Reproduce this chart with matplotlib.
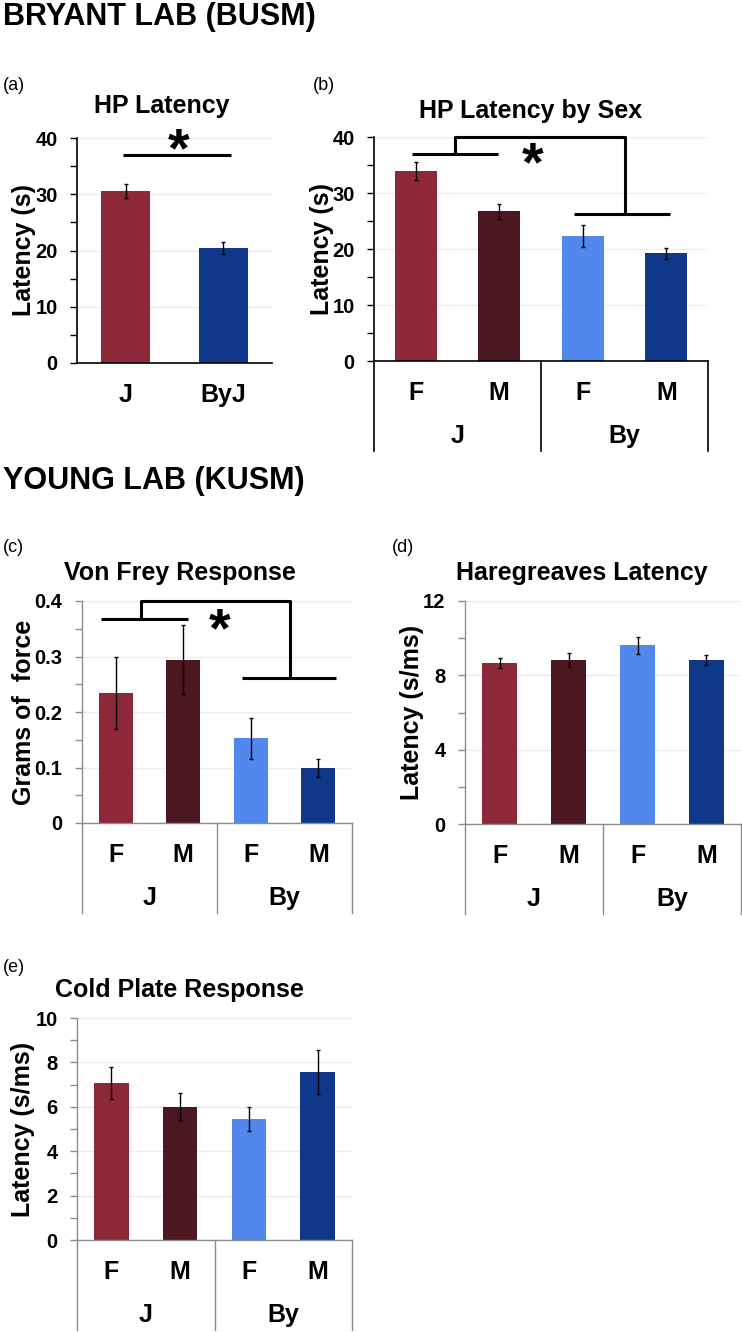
import matplotlib.pyplot as plt
import matplotlib.transforms as mtrans

plt.rcParams['font.family'] = ['Liberation Sans', 'DejaVu Sans']

# ---- data ----
strains_a = ["J", "ByJ"]
hp_mean = [30.6, 20.5]
hp_err = [1.2, 1.1]

sex_labels = ["F", "M", "F", "M"]
strain_labels = ["J", "By"]

hp_sex_mean = [33.9, 26.7, 22.3, 19.2]
hp_sex_err = [1.6, 1.4, 2.0, 1.0]

vf_mean = [0.234, 0.294, 0.153, 0.099]
vf_err = [0.065, 0.062, 0.037, 0.017]

hg_mean = [8.65, 8.81, 9.61, 8.81]
hg_err = [0.28, 0.38, 0.45, 0.27]

cp_mean = [7.07, 6.0, 5.45, 7.56]
cp_err = [0.74, 0.6, 0.52, 1.0]

hp_ticks = [0, 10, 20, 30, 40]
hp_minor = [5, 15, 25, 35]
vf_ticks = [0, 0.1, 0.2, 0.3, 0.4]
vf_ticklabels = ["0", "0.1", "0.2", "0.3", "0.4"]
vf_minor = [0.05, 0.15, 0.25, 0.35]
hg_ticks = [0, 4, 8, 12]
hg_minor = [2, 6, 10]
cp_ticks = [0, 2, 4, 6, 8, 10]
cp_minor = [1, 3, 5, 7, 9]

red, maroon, light_blue, navy = "#8c2837", "#4b1720", "#5288eb", "#10388a"
colors4 = [red, maroon, light_blue, navy]
GRAY = "#8c8c8c"

W, H = 742, 1332
fig = plt.figure(figsize=(W / 100, H / 100), dpi=100)


def make_axes(left, top, right, bottom):
    return fig.add_axes([left / W, 1 - bottom / H, (right - left) / W, (bottom - top) / H])


def down(px):
    # shift by px pixels downward
    return mtrans.ScaledTranslation(0, -px / 100, fig.dpi_scale_trans)


def style_axes(ax, ylim, major, minor, labels, line_color, lw):
    ax.set_ylim(0, ylim)
    ax.set_yticks(major)
    ax.set_yticklabels(labels, fontsize=14.5, fontweight='bold')
    ax.set_yticks(minor, minor=True)
    ax.tick_params(axis='y', which='both', direction='out', length=5, width=1,
                   color=line_color, labelcolor='black', pad=9)
    ax.set_xticks([])
    for s in ['top', 'right']:
        ax.spines[s].set_visible(False)
    for s in ['left', 'bottom']:
        ax.spines[s].set_color(line_color)
        ax.spines[s].set_linewidth(lw)
    ax.grid(axis='y', which='major', color='#ececec', lw=1)
    ax.set_axisbelow(True)


def draw_bars(ax, means, errs, colors):
    x = list(range(len(means)))
    ax.bar(x, means, width=0.5, color=colors, zorder=2)
    ax.errorbar(x, means, yerr=errs, fmt='none', ecolor='black', elinewidth=1,
                capsize=1.5, capthick=1, zorder=3)
    ax.set_xlim(-0.5, len(means) - 0.5)


def group_axis(ax, line_color):
    trans = mtrans.blended_transform_factory(ax.transData, ax.transAxes)
    h_px = ax.get_position().height * H
    for xv in [-0.5, 1.5, 3.5]:
        ax.plot([xv, xv], [0, -90 / h_px], transform=trans, color=line_color,
                lw=1.2 if line_color == 'black' else 1, clip_on=False)
    for i, lab in enumerate(sex_labels):
        ax.text(i, 0, lab, transform=trans + down(39), ha='center', va='baseline',
                fontsize=18, fontweight='bold')
    for i, lab in enumerate(strain_labels):
        ax.text(2 * i + 0.5, 0, lab, transform=trans + down(82), ha='center',
                va='baseline', fontsize=18, fontweight='bold')


def star(ax, x, y, fs=40):
    ax.text(x, y, "*", transform=ax.transData + down(0.47 * fs * 100 / 72),
            ha='center', va='baseline', fontsize=fs, fontweight='bold', clip_on=False)


def bracket(ax, l0, l1, ly, r0, r1, ry, xl, xr, ytop):
    kw = dict(color='black', lw=2.2, clip_on=False, solid_capstyle='butt', zorder=4)
    ax.plot([l0, l1], [ly, ly], **kw)
    ax.plot([r0, r1], [ry, ry], **kw)
    ax.plot([xl, xl, xr, xr], [ly, ytop, ytop, ry], **kw)


def ylab(ax, text, xpx):
    ax.set_ylabel(text, fontsize=18, fontweight='bold', va='center')
    left = ax.get_position().x0 * W
    ax.yaxis.set_label_coords((xpx - left) / (ax.get_position().width * W), 0.5)


# ---- headings ----
fig.text(3 / W, 1 - 25 / H, "BRYANT LAB (BUSM)", fontsize=22, fontweight='bold', va='baseline')
fig.text(3 / W, 1 - 489 / H, "YOUNG LAB (KUSM)", fontsize=22, fontweight='bold', va='baseline')

# ---- (a) ----
ax_a = make_axes(77, 138, 272, 363)
style_axes(ax_a, 40, hp_ticks, hp_minor, [str(t) for t in hp_ticks], 'black', 1.2)
draw_bars(ax_a, hp_mean, hp_err, [red, navy])
ta = mtrans.blended_transform_factory(ax_a.transData, ax_a.transAxes)
for i, lab in enumerate(strains_a):
    ax_a.text(i, 0, lab, transform=ta + down(39), ha='center', va='baseline',
              fontsize=18, fontweight='bold')
ax_a.plot([-0.03, 1.08], [37, 37], color='black', lw=2.2, solid_capstyle='butt')
star(ax_a, 0.54, 39.7)
ylab(ax_a, "Latency (s)", 24)
fig.text(3 / W, 1 - 85 / H, "(a)", fontsize=13, va='center')
fig.text(162 / W, 1 - 113 / H, "HP Latency", fontsize=18, fontweight='bold',
         ha='center', va='baseline')

# ---- (b) ----
ax_b = make_axes(374, 137, 708, 361)
style_axes(ax_b, 40, hp_ticks, hp_minor, [str(t) for t in hp_ticks], 'black', 1.2)
draw_bars(ax_b, hp_sex_mean, hp_sex_err, colors4)
group_axis(ax_b, 'black')
bracket(ax_b, -0.05, 0.98, 37, 1.89, 3.05, 26.3, 0.47, 2.5, 40)
star(ax_b, 1.4, 37.0)
ylab(ax_b, "Latency (s)", 322)
fig.text(313 / W, 1 - 85 / H, "(b)", fontsize=13, va='center')
fig.text(531 / W, 1 - 118 / H, "HP Latency by Sex", fontsize=18, fontweight='bold',
         ha='center', va='baseline')

# ---- (c) ----
ax_c = make_axes(82, 601, 352, 823)
style_axes(ax_c, 0.4, vf_ticks, vf_minor, vf_ticklabels, GRAY, 1)
draw_bars(ax_c, vf_mean, vf_err, colors4)
group_axis(ax_c, GRAY)
bracket(ax_c, -0.22, 1.07, 0.367, 1.87, 3.27, 0.261, 0.38, 2.58, 0.4)
star(ax_c, 1.54, 0.366)
ylab(ax_c, "Grams of  force", 24)
fig.text(3 / W, 1 - 547 / H, "(c)", fontsize=13, va='center')
fig.text(180 / W, 1 - 580 / H, "Von Frey Response", fontsize=18, fontweight='bold',
         ha='center', va='baseline')

# ---- (d) ----
ax_d = make_axes(465, 601, 741, 824)
style_axes(ax_d, 12, hg_ticks, hg_minor, [str(t) for t in hg_ticks], GRAY, 1)
draw_bars(ax_d, hg_mean, hg_err, colors4)
group_axis(ax_d, GRAY)
ylab(ax_d, "Latency (s/ms)", 412)
fig.text(392 / W, 1 - 547 / H, "(d)", fontsize=13, va='center')
fig.text(582 / W, 1 - 580 / H, "Haregreaves Latency", fontsize=18, fontweight='bold',
         ha='center', va='baseline')

# ---- (e) ----
ax_e = make_axes(77, 1018, 352, 1240)
style_axes(ax_e, 10, cp_ticks, cp_minor, [str(t) for t in cp_ticks], GRAY, 1)
draw_bars(ax_e, cp_mean, cp_err, colors4)
group_axis(ax_e, GRAY)
ylab(ax_e, "Latency (s/ms)", 23)
fig.text(3 / W, 1 - 967 / H, "(e)", fontsize=13, va='center')
fig.text(179 / W, 1 - 997 / H, "Cold Plate Response", fontsize=18, fontweight='bold',
         ha='center', va='baseline')

fig.savefig("out.png", dpi=100)
